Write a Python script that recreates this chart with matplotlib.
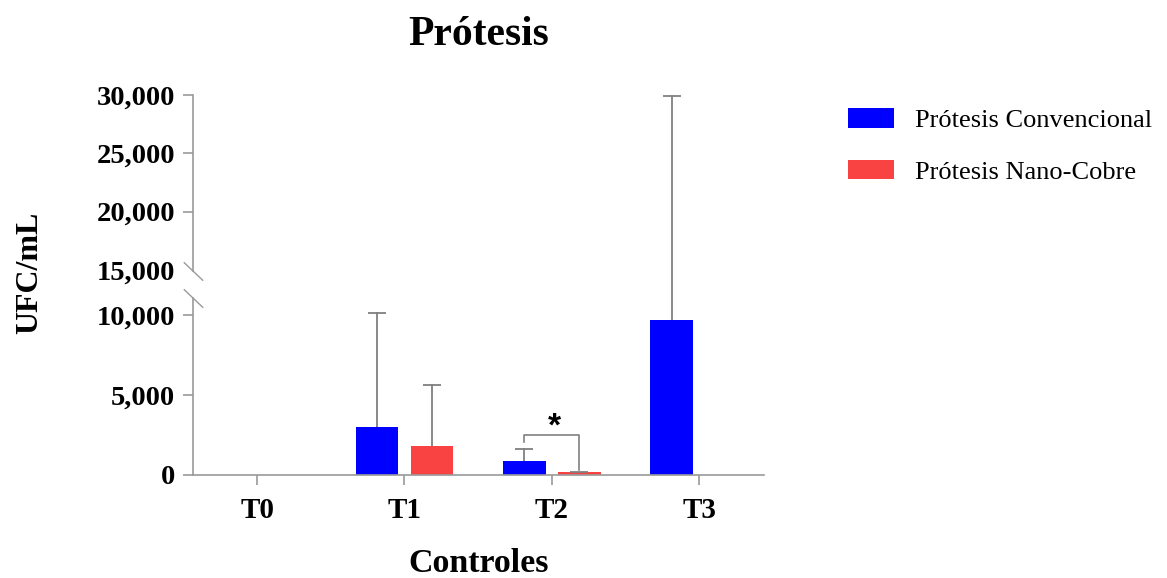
import numpy as np
import matplotlib
matplotlib.use("Agg")
import matplotlib.pyplot as plt
import matplotlib.transforms as mtransforms

plt.rcParams['font.family'] = ['Liberation Serif', 'DejaVu Serif']

# data (UFC/mL)
tiempos = ['T0', 'T1', 'T2', 'T3']
conv_media = [0, 2980, 875, 9690]
conv_sd = [0, 7210, 725, 20210]
nano_media = [0, 1830, 170, 0]
nano_sd = [0, 3795, 40, 0]
series = ['Prótesis Convencional', 'Prótesis Nano-Cobre']
yticks = [0, 5000, 10000, 20000, 25000, 30000]
ylabels_extra = [15000]

C_BLUE = '#0000ff'
C_RED = '#f94242'
C_AX = '#9a9a9a'
C_ERR = '#808080'

# broken y axis: 0-10000 dense, 10000-15000 gap, 15000-30000 compressed
seg_y = np.array([0, 10000, 15000, 30000], dtype=float)
seg_p = np.array([0, 160, 205, 380], dtype=float)

def fwd(y):
    y = np.asarray(y, dtype=float)
    i = np.clip(np.searchsorted(seg_y, y) - 1, 0, 2)
    return seg_p[i] + (y - seg_y[i]) * (seg_p[i+1] - seg_p[i]) / (seg_y[i+1] - seg_y[i])

def inv(p):
    p = np.asarray(p, dtype=float)
    i = np.clip(np.searchsorted(seg_p, p) - 1, 0, 2)
    return seg_y[i] + (p - seg_p[i]) * (seg_y[i+1] - seg_y[i]) / (seg_p[i+1] - seg_p[i])

fig = plt.figure(figsize=(11.67, 5.78), dpi=100)
ax = fig.add_axes([193/1167, 1-475/578, (764-193)/1167, (475-95)/578])
ax.set_yscale('function', functions=(fwd, inv))

x = np.arange(len(tiempos))
w = 0.29
off = 0.187

ax.bar(x - off, conv_media, w, color=C_BLUE, label=series[0], zorder=2)
ax.bar(x + off, nano_media, w, color=C_RED, label=series[1], zorder=2)

# upper error bars only
for xs, m, sd in [(x - off, conv_media, conv_sd), (x + off, nano_media, nano_sd)]:
    for xi, mi, si in zip(xs, m, sd):
        if si > 0:
            ax.plot([xi, xi], [mi, mi + si], color=C_ERR, lw=1.3, zorder=1)
            ax.plot([xi], [mi + si], marker='_', markersize=13, mew=1.3,
                    color=C_ERR, zorder=3)

# significance bracket T2
b_top = 2500
ax.plot([2 - off, 2 - off, 2 + off, 2 + off],
        [conv_media[2] + conv_sd[2] + 450, b_top, b_top, nano_media[2] + 150],
        color=C_ERR, lw=1.2, zorder=3)
ax.text(2.02, 2030, '*', ha='center', va='bottom', fontsize=24, fontweight='bold',
        family='Liberation Sans')

ax.set_xlim(-0.435, 3.44)
ax.set_ylim(0, 30000)

for s in ['top', 'right', 'left']:
    ax.spines[s].set_visible(False)
ax.spines['bottom'].set_color(C_AX)
ax.spines['bottom'].set_linewidth(1.2)

# left spine in two pieces with break marks
yt = ax.get_yaxis_transform()
ax.plot([0, 0], [0, 11890], color=C_AX, lw=1.2, transform=yt, clip_on=False)
ax.plot([0, 0], [14900, 30000], color=C_AX, lw=1.2, transform=yt, clip_on=False)
for yb in [11890, 14900]:
    ax.plot([0], [yb], transform=yt, clip_on=False, color=C_AX,
            marker=[(-1, 0.95), (1, -0.95)], markersize=14, mew=1.0)

ax.set_yticks(yticks)
ax.set_yticklabels([f'{v:,}' for v in yticks])
ax.tick_params(axis='y', length=7, width=1.2, color=C_AX, pad=6, labelsize=20.5)
lab_tr = yt + mtransforms.ScaledTranslation(-13/72, 0, fig.dpi_scale_trans)
for v in ylabels_extra:
    ax.text(0, v, f'{v:,}', transform=lab_tr, ha='right', va='center_baseline',
            fontsize=20.5, fontweight='bold')
ax.set_xticks(x)
ax.set_xticklabels(tiempos)
ax.tick_params(axis='x', length=7, width=1.2, color=C_AX, pad=9, labelsize=21)
for lab in ax.get_xticklabels() + ax.get_yticklabels():
    lab.set_fontweight('bold')

ax.set_title('Prótesis', fontsize=30, fontweight='bold', pad=36)
ax.set_xlabel('Controles', fontsize=24.5, fontweight='bold', labelpad=17)
ax.set_ylabel('UFC/mL', fontsize=23, fontweight='bold')
ax.yaxis.set_label_coords((44 - 193) / 571, (475 - 273) / 380)

fig.legend(loc='upper left', bbox_to_anchor=(848/1167, 1-108/578), frameon=False,
           fontsize=19, handlelength=1.74, handleheight=0.76, labelspacing=1.05,
           handletextpad=0.8, borderpad=0, borderaxespad=0)

fig.savefig('out.png', dpi=100)
